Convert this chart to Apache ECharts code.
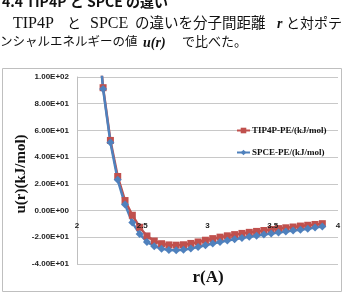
<!DOCTYPE html>
<html>
<head>
<meta charset="utf-8">
<script src="https://cdn.jsdelivr.net/npm/echarts@6/dist/echarts.min.js"></script>
<style>
html,body{margin:0;padding:0;background:#fff;}
#chart{width:344px;height:294px;}
</style>
</head>
<body>
<div id="chart"></div>
<script>
// ---- data ----
const rValues = [2.144, 2.2, 2.256, 2.312, 2.368, 2.424, 2.48, 2.536, 2.592, 2.648, 2.704, 2.76, 2.816, 2.872, 2.928, 2.984, 3.04, 3.096, 3.152, 3.208, 3.264, 3.32, 3.376, 3.432, 3.488, 3.544, 3.6, 3.656, 3.712, 3.768, 3.824, 3.88];
const tip4pPE = [150, 92, 52.5, 25.5, 7.5, -3.5, -12.5, -19, -22.8, -24.8, -25.7, -25.9, -25.6, -24.6, -23.5, -22.2, -21.0, -19.9, -18.9, -18.0, -17.1, -16.3, -15.6, -14.9, -14.2, -13.5, -12.9, -12.3, -11.6, -11.0, -10.4, -9.8];
const spcePE = [150, 91, 51, 23, 4.5, -9, -17.5, -23.5, -26.7, -28.5, -29.5, -29.7, -29.3, -28.4, -27.3, -26.0, -24.7, -23.5, -22.4, -21.4, -20.5, -19.6, -18.8, -18.0, -17.2, -16.4, -15.7, -15.0, -14.3, -13.6, -12.6, -11.9];
const seriesNames = ['TIP4P-PE/(kJ/mol)', 'SPCE-PE/(kJ/mol)'];
const xAxisTitle = 'r(A)';
const yAxisTitle = 'u(r)(kJ/mol)';
const xRange = [2, 4, 0.5];
const yRange = [-40, 100, 20];

function sci(v) {
  if (v === 0) return '0.00E+00';
  const s = v < 0 ? '-' : '';
  let a = Math.abs(v);
  let e = Math.floor(Math.log10(a));
  let m = a / Math.pow(10, e);
  if (m >= 9.995) { m /= 10; e++; }
  return s + m.toFixed(2) + 'E' + (e < 0 ? '-' : '+') + String(Math.abs(e)).padStart(2, '0');
}

const serif = '"Liberation Serif", "Times New Roman", "Noto Sans CJK JP", serif';
const jp = '"Liberation Serif", "Noto Sans CJK JP", serif';
const sans = '"Liberation Sans", Arial, sans-serif';

const chart = echarts.init(document.getElementById('chart'), null, {renderer: 'canvas'});

function t(x, y, s, font, extra) {
  return {type: 'text', silent: true, x: x, y: y,
    style: Object.assign({text: s, font: font, fill: '#111', verticalAlign: 'middle'}, extra || {})};
}

const option = {
  animation: false,
  backgroundColor: '#fff',
  grid: {left: 77, right: 6, top: 77, bottom: 30, containLabel: false},
  legend: {
    orient: 'vertical', left: 231, top: 121, itemGap: 13,
    itemWidth: 13, itemHeight: 7,
    textStyle: {fontFamily: serif, fontWeight: 'bold', fontSize: 9, color: '#111', padding: [0, 0, 0, -3]},
    data: seriesNames
  },
  xAxis: {
    type: 'value', min: xRange[0], max: xRange[1], interval: xRange[2],
    offset: 0, z: 5,
    axisLine: {show: false, onZero: false},
    axisTick: {show: false},
    splitLine: {show: false},
    axisLabel: {margin: 11, fontFamily: sans, fontWeight: 'bold', fontSize: 8, color: '#222',
      showMinLabel: true, showMaxLabel: true, formatter: v => String(v)}
  },
  yAxis: {
    type: 'value', min: yRange[0], max: yRange[1], interval: yRange[2],
    axisLine: {show: true, lineStyle: {color: '#bfbfbf', width: 1}},
    axisTick: {show: false},
    splitLine: {show: true, lineStyle: {color: '#c8c8c8', width: 1}},
    axisLabel: {margin: 8, fontFamily: sans, fontWeight: 'bold', fontSize: 8, color: '#222', formatter: v => sci(v)}
  },
  series: [
    {
      name: seriesNames[0], type: 'line', clip: true,
      data: rValues.map((r, i) => [r, tip4pPE[i]]),
      symbol: 'rect', symbolSize: 7, showAllSymbol: true,
      lineStyle: {color: '#C0504D', width: 2.5},
      itemStyle: {color: '#C0504D'}
    },
    {
      name: seriesNames[1], type: 'line', clip: true,
      data: rValues.map((r, i) => [r, spcePE[i]]),
      symbol: 'diamond', symbolSize: 8, showAllSymbol: true,
      lineStyle: {color: '#4F81BD', width: 2.5},
      itemStyle: {color: '#4F81BD'}
    }
  ],
  graphic: [
    {type: 'rect', silent: true, shape: {x: 2.5, y: 68.5, width: 339, height: 223},
      style: {fill: 'none', stroke: '#bfbfbf', lineWidth: 1}},
    // header text
    t(2, 1.5, '4.4 TIP4P と SPCE の違い', 'bold 14px "Noto Sans CJK JP", sans-serif'),
    t(13, 24, 'TIP4P', '16px ' + serif),
    t(67, 24, 'と', '14px ' + jp),
    t(90, 24, 'SPCE', '16px ' + serif),
    t(135, 24, 'の違いを分子間距離', '14.5px ' + jp),
    t(277, 24, 'r', 'italic bold 14px ' + serif),
    t(286, 24, 'と対ポテ', '14px ' + jp),
    t(0, 43, 'ンシャルエネルギーの値', '12.5px ' + jp),
    t(143, 43, 'u(r)', 'italic bold 14px ' + serif),
    t(182, 43, 'で比べた。', '13px ' + jp),
    // axis titles
    {type: 'text', silent: true, x: 21, y: 174, rotation: Math.PI / 2,
      style: {text: yAxisTitle, font: 'bold 15px ' + serif, fill: '#111', align: 'center', verticalAlign: 'middle'}},
    {type: 'text', silent: true, x: 208, y: 278,
      style: {text: xAxisTitle, font: 'bold 17px ' + serif, fill: '#111', align: 'center', verticalAlign: 'middle'}}
  ]
};
chart.setOption(option);
// place the x axis labels on y = 0, using the library's own scale
const yZero = chart.convertToPixel({yAxisIndex: 0}, 0);
const yBottom = chart.convertToPixel({yAxisIndex: 0}, yRange[0]);
chart.setOption({xAxis: {offset: yZero - yBottom}});
</script>
</body>
</html>
